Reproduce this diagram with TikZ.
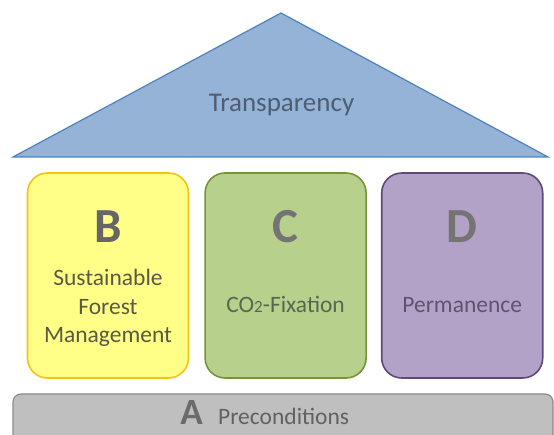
\documentclass[tikz,border=0pt]{standalone}
\usepackage{fontspec}
\setmainfont{Carlito}
\usetikzlibrary{positioning}
\definecolor{roofblue}{HTML}{95B3D7}
\definecolor{roofline}{HTML}{4F81BD}
\definecolor{yellowfill}{HTML}{FFFF88}
\definecolor{yellowline}{HTML}{F2C314}
\definecolor{greenfill}{HTML}{B7D08C}
\definecolor{greenline}{HTML}{77933C}
\definecolor{violetfill}{HTML}{B3A2C7}
\definecolor{violetline}{HTML}{5F497A}
\definecolor{basefill}{HTML}{BFBFBF}
\definecolor{baseline}{HTML}{8C8C8C}
\definecolor{lettergray}{HTML}{747474}
\definecolor{rooftext}{HTML}{4D5D74}
\definecolor{yellowtext}{HTML}{5A5A44}
\definecolor{greentext}{HTML}{5A6650}
\definecolor{violettext}{HTML}{5E5470}
\tikzset{
house/.style={x=1pt,y=1pt,node distance=15pt},
roof/.style={fill=roofblue,draw=roofline,line width=1.2pt,line join=miter},
pillar/.style={rounded corners=20pt,minimum width=161pt,minimum height=205pt,
    line width=1.6pt,inner sep=0pt},
letter/.style={anchor=base,font=\fontsize{49}{49}\selectfont\bfseries,text=lettergray},
pillartext/.style={font=\fontsize{23.5}{28.5}\selectfont,align=center,inner sep=0pt},
footing/.style={rounded corners=8pt,minimum width=540pt,minimum height=54pt,
    fill=basefill,draw=baseline,line width=1.2pt},
}

\begin{document}
\begin{tikzpicture}[house]

    \useasboundingbox (0,0) rectangle (554,435);

    % roof
    \coordinate (eaveL) at (13,278);
    \coordinate (apex) at (281,422);
    \coordinate (eaveR) at (548,278);
    \draw[roof] (eaveL) -- (apex) -- (eaveR) -- cycle;
    \node[pillartext,font=\fontsize{27}{27}\selectfont,anchor=base,
        text=rooftext] (T) at (281.5,323) {Transparency};

    % pillars
    \node[pillar,fill=yellowfill,draw=yellowline] (B) at (108,159.5) {};
    \node[pillar,fill=greenfill,draw=greenline,right=of B] (C) {};
    \node[pillar,fill=violetfill,draw=violetline,right=14pt of C] (D) {};

    \node[letter,text=black!60] (Bl) at (B.center |- 0,192) {B};
    \node[letter] (Cl) at (C.center |- 0,192) {C};
    \node[letter] (Dl) at (D.center |- 0,192) {D};

    \node[pillartext,text=yellowtext] (Bt) at (B.center |- 0,127) {Sustainable\\Forest\\Management};
    \node[pillartext,anchor=base,text=greentext] (Ct) at (C.center |- 0,122)
        {CO{\fontsize{17}{17}\selectfont 2}-Fixation};
    \node[pillartext,anchor=base,text=violettext] (Dt) at (D.center |- 0,122) {Permanence};

    % footing
    \node[footing] (A) at (283,14) {};
    \node[letter,font=\fontsize{37}{37}\selectfont\bfseries,text=black!58] (Al) at (191.5,10) {A};
    \node[pillartext,anchor=base west,text=black!62] (pre) at (218,10) {Preconditions};

\end{tikzpicture}
\end{document}
